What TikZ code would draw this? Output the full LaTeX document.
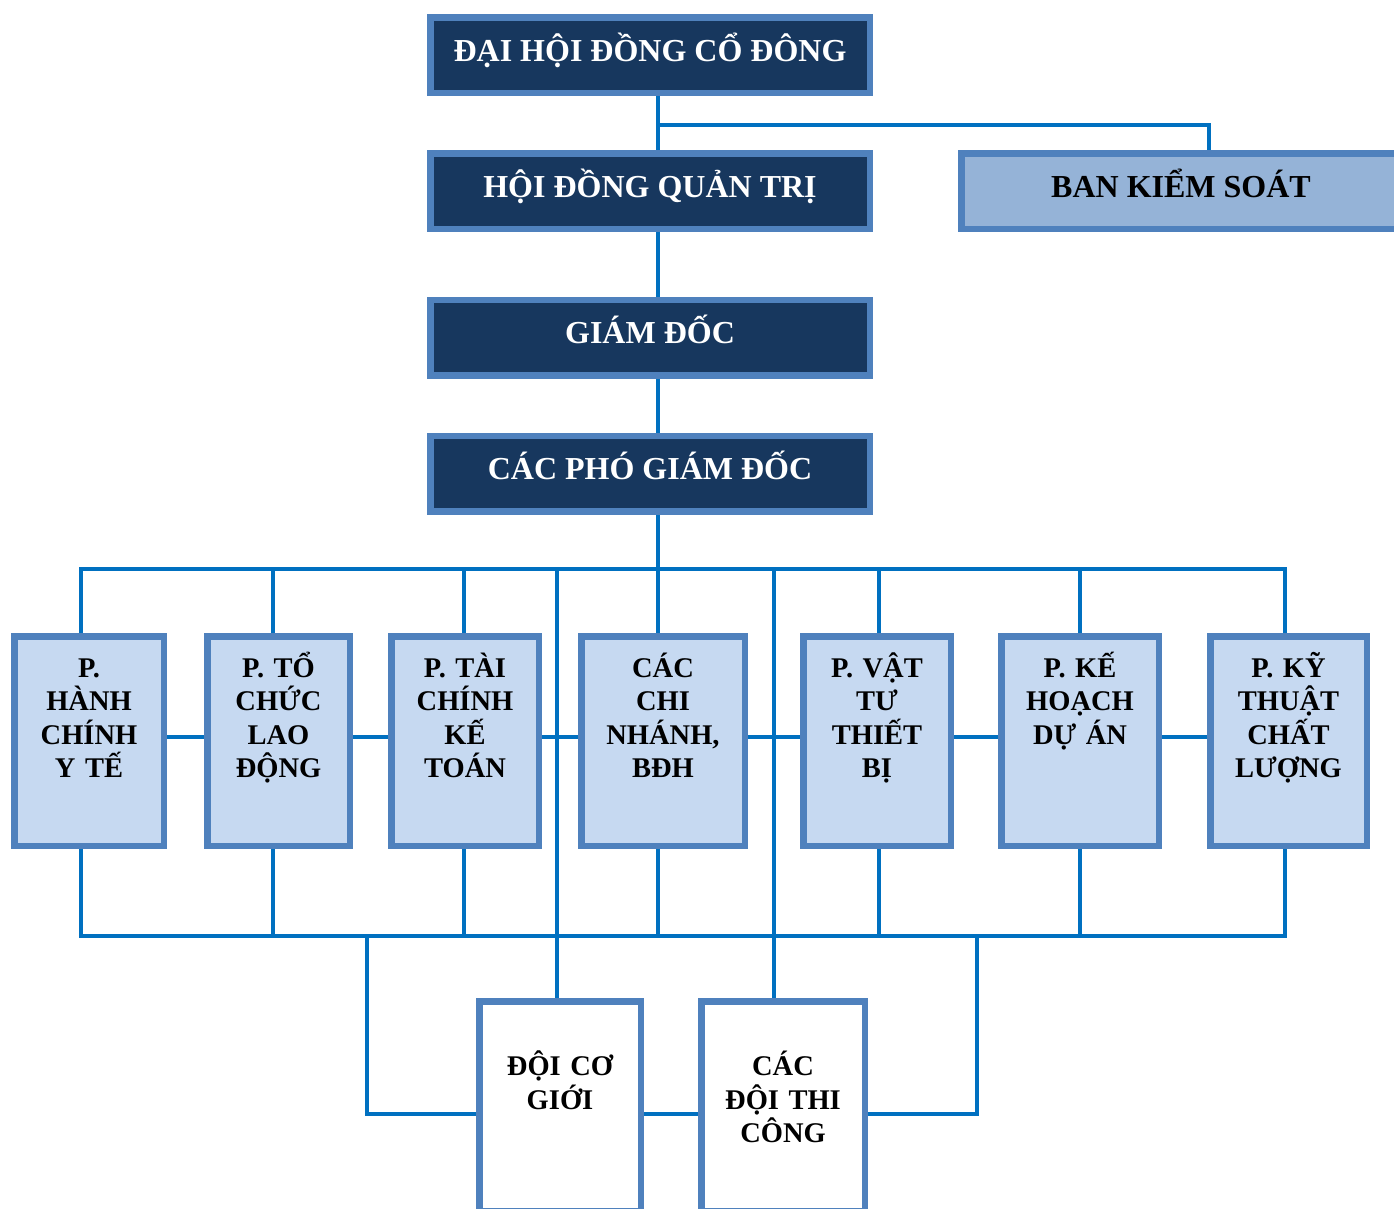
\documentclass[tikz,border=0pt]{standalone}
\usepackage{fontspec}
\setmainfont{Liberation Serif}
\usetikzlibrary{backgrounds}
\definecolor{navy}{HTML}{17375E}
\definecolor{edgeblue}{HTML}{4F81BD}
\definecolor{paleblue}{HTML}{C6D9F1}
\definecolor{midblue}{HTML}{95B3D7}
\definecolor{wireblue}{HTML}{0070C0}
\begin{document}
\begin{tikzpicture}[x=1pt, y=-1pt,
    link/.style = {draw=wireblue, line width=4pt, line cap=rect},
    boss/.style = {draw=edgeblue, line width=6.5pt, fill=navy, text=white, inner sep=0pt,
      minimum width=439.5pt, minimum height=75.5pt, text height=44pt, text depth=31.5pt,
      font=\bfseries\fontsize{32}{36}\selectfont},
    audit/.style = {boss, fill=midblue, text=black},
    dept/.style = {draw=edgeblue, line width=6.5pt, fill=paleblue, inner sep=0pt,
      minimum height=209.5pt, text width=130pt, execute at begin node=\centering,
      text height=40.75pt, text depth=168.75pt,
      font=\bfseries\fontsize{28.5}{33.5}\selectfont},
    team/.style = {dept, fill=white, text height=74.25pt, text depth=135.25pt}]
  \useasboundingbox (0,0) rectangle (1394,1208);

  % management
  \node[boss] (dhdcd) at (650,55) {ĐẠI HỘI ĐỒNG CỔ ĐÔNG};
  \node[boss] (hdqt) at (650,191) {HỘI ĐỒNG QUẢN TRỊ};
  \node[audit] (bks) at (1181,191) {BAN KIỂM SOÁT};
  \node[boss] (gd) at (650,337.5) {GIÁM ĐỐC};
  \node[boss] (pgd) at (650,473.5) {CÁC PHÓ GIÁM ĐỐC};

  % departments
  \node[dept, minimum width=149.5pt] (hcyt) at (89,741) {P.\\HÀNH\\CHÍNH\\Y TẾ};
  \node[dept, minimum width=142.5pt] (tcld) at (278.5,741) {P. TỔ\\CHỨC\\LAO\\ĐỘNG};
  \node[dept, minimum width=147.5pt] (tckt) at (465,741) {P. TÀI\\CHÍNH\\KẾ\\TOÁN};
  \node[dept, minimum width=163.5pt] (ccn) at (663,741) {CÁC\\CHI\\NHÁNH,\\BĐH};
  \node[dept, minimum width=147.5pt] (vttb) at (877,741) {P. VẬT\\TƯ\\THIẾT\\BỊ};
  \node[dept, minimum width=157.5pt] (khda) at (1080,741) {P. KẾ\\HOẠCH\\DỰ ÁN};
  \node[dept, minimum width=156.5pt] (ktcl) at (1288.5,741) {P. KỸ\\THUẬT\\CHẤT\\LƯỢNG};

  % teams
  \node[team, minimum width=161.5pt] (dcg) at (560,1106) {ĐỘI CƠ\\GIỚI};
  \node[team, minimum width=163.5pt] (cdtc) at (783,1106) {CÁC\\ĐỘI THI\\CÔNG};

  \coordinate (trunk) at (658,0);
  \coordinate (bkstap) at (1209,125);
  \coordinate (topbus) at (0,569);
  \coordinate (midline) at (0,737);
  \coordinate (lowbus) at (0,935.5);
  \coordinate (feed) at (0,1114);
  \coordinate (dcgtap) at (557,0);
  \coordinate (cdtctap) at (774,0);
  \coordinate (leftfeed) at (367,0);
  \coordinate (rightfeed) at (977,0);

  \begin{scope}[on background layer]
    \draw[link] (dhdcd.south -| trunk) -- (hdqt.north -| trunk);
    \draw[link] (hdqt.south -| trunk) -- (gd.north -| trunk);
    \draw[link] (gd.south -| trunk) -- (pgd.north -| trunk);
    \draw[link] (pgd.south -| trunk) -- (trunk |- topbus);
    \draw[link] (trunk |- bkstap) -- (bkstap) -- (bkstap |- bks.north);

    \foreach \n/\x in {hcyt/81, tcld/273, tckt/463.5, ccn/658, vttb/879, khda/1080, ktcl/1284.5} {
      \coordinate (\n-tap) at (\x,0);
      \draw[link] (\n-tap |- topbus) -- (\n-tap |- \n.north);
      \draw[link] (\n.south -| \n-tap) -- (\n-tap |- lowbus);
    }
    \draw[link] (hcyt-tap |- topbus) -- (ktcl-tap |- topbus);
    \draw[link] (hcyt-tap |- lowbus) -- (ktcl-tap |- lowbus);

    \foreach \a/\b in {hcyt/tcld, tcld/tckt, tckt/ccn, ccn/vttb, vttb/khda, khda/ktcl}
      \draw[link] (\a.east |- midline) -- (\b.west |- midline);

    \draw[link] (dcgtap |- topbus) -- (dcgtap |- dcg.north);
    \draw[link] (cdtctap |- topbus) -- (cdtctap |- cdtc.north);
    \draw[link] (leftfeed |- lowbus) |- (dcg.west |- feed);
    \draw[link] (rightfeed |- lowbus) |- (cdtc.east |- feed);
    \draw[link] (dcg.east |- feed) -- (cdtc.west |- feed);
  \end{scope}
\end{tikzpicture}
\end{document}
